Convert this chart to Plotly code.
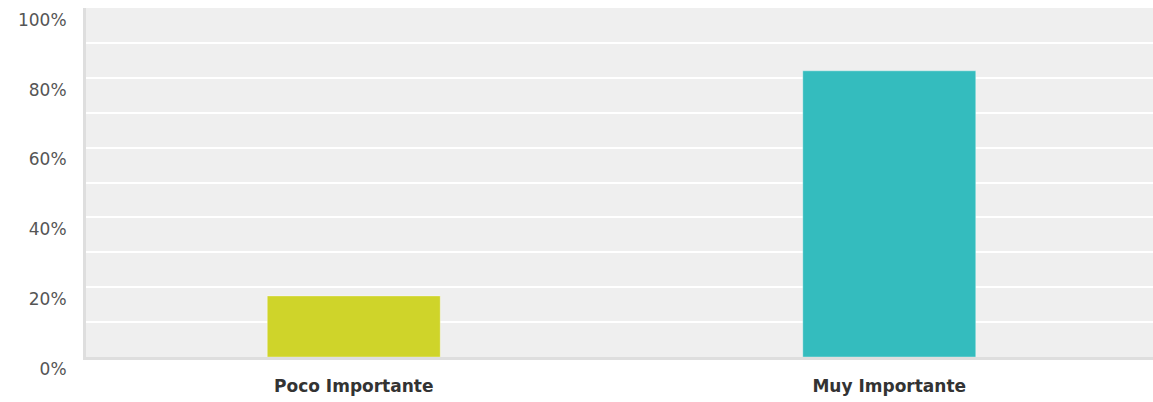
import plotly.graph_objects as go

# Survey result: share of answers per importance level
categories = ["Poco Importante", "Muy Importante"]
shares = [17.5, 82.0]
bar_colors = ["#cfd42a", "#34bcbe"]
tick_values = [0, 20, 40, 60, 80, 100]
tick_labels = ["0%", "20%", "40%", "60%", "80%", "100%"]

fig = go.Figure(
    go.Bar(
        x=categories,
        y=shares,
        marker=dict(color=bar_colors, line=dict(color="rgba(255,255,255,0.35)", width=1)),
        width=0.323,
        hoverinfo="x+y",
    )
)

fig.update_layout(
    width=1153,
    height=402,
    margin=dict(l=86, r=0, t=8, b=45),
    paper_bgcolor="white",
    plot_bgcolor="#efefef",
    showlegend=False,
    font=dict(family="DejaVu Sans, Verdana, sans-serif"),
)

fig.update_xaxes(
    range=[-0.5, 1.4925],
    showgrid=False,
    showline=True,
    linecolor="#dedede",
    linewidth=3,
    ticks="",
    tickfont=dict(size=17, color="#333333", family="DejaVu Sans, Verdana, sans-serif", weight="bold"),
    ticklabelstandoff=12,
    zeroline=False,
)

fig.update_yaxes(
    range=[0, 100],
    tickvals=tick_values,
    ticktext=tick_labels,
    tickfont=dict(size=17, color="#555555"),
    ticklabelposition="outside bottom",
    ticklabelstandoff=13,
    showgrid=True,
    gridcolor="white",
    gridwidth=2,
    minor=dict(dtick=10, showgrid=True, gridcolor="white", gridwidth=2),
    showline=True,
    linecolor="#dedede",
    linewidth=3,
    zeroline=False,
    ticks="",
)

fig.write_html("out.html")
